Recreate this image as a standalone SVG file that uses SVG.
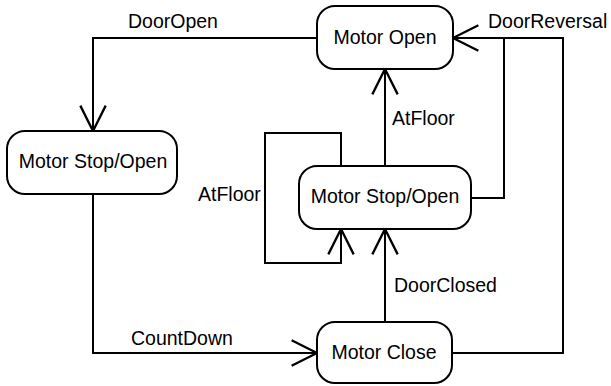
<svg xmlns="http://www.w3.org/2000/svg" width="611" height="386" viewBox="0 0 611 386">
  <style>
    .state { fill: #ffffff; stroke: #000000; stroke-width: 2; }
    .wire { fill: none; stroke: #000000; stroke-width: 2; }
    text { font-family: "Liberation Sans", Arial, Helvetica, sans-serif; font-size: 19.5px; fill: #000000; }
    .name { text-anchor: middle; }
  </style>
  <defs>
    <marker id="open-arrow" markerUnits="userSpaceOnUse" markerWidth="30" markerHeight="30" viewBox="-24 -13 26 26" refX="0" refY="0" orient="auto">
      <path d="M -22 -11 L 0 0 L -22 11" fill="none" stroke="#000000" stroke-width="2"/>
    </marker>
  </defs>

  <rect width="611" height="386" fill="#ffffff"/>

  <!-- transitions -->
  <g id="connectors">
    <path class="wire" d="M 317 38 H 93 V 131" marker-end="url(#open-arrow)"/>
    <path class="wire" d="M 93 194 V 353 H 317" marker-end="url(#open-arrow)"/>
    <path class="wire" d="M 385 322 V 229" marker-end="url(#open-arrow)"/>
    <path class="wire" d="M 385 166 V 69" marker-end="url(#open-arrow)"/>
    <path class="wire" d="M 341 166 V 133 H 265 V 263 H 341 V 229" marker-end="url(#open-arrow)"/>
    <path class="wire" d="M 452 353 H 563 V 38 H 453" marker-end="url(#open-arrow)"/>
    <path class="wire" d="M 471 198 H 504 V 38"/>
    <text x="128" y="28">DoorOpen</text>
    <text x="488" y="28">DoorReversal</text>
    <text x="392" y="125">AtFloor</text>
    <text x="198" y="201">AtFloor</text>
    <text x="394" y="292">DoorClosed</text>
    <text x="131" y="345">CountDown</text>
  </g>

  <!-- states -->
  <g id="motor-open">
    <rect class="state" x="317" y="6" width="136" height="63" rx="18" ry="18"/>
    <text class="name" x="385" y="44">Motor Open</text>
  </g>
  <g id="motor-stop-open-left">
    <rect class="state" x="7" y="131" width="170" height="63" rx="18" ry="18"/>
    <text class="name" x="93" y="168">Motor Stop/Open</text>
  </g>
  <g id="motor-stop-open-center">
    <rect class="state" x="299" y="166" width="172" height="63" rx="18" ry="18"/>
    <text class="name" x="385" y="203">Motor Stop/Open</text>
  </g>
  <g id="motor-close">
    <rect class="state" x="317" y="322" width="135" height="61" rx="18" ry="18"/>
    <text class="name" x="384" y="359">Motor Close</text>
  </g>
</svg>
